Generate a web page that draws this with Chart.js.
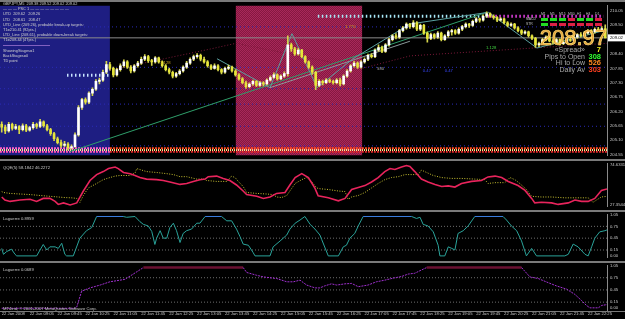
<!DOCTYPE html>
<html>
<head>
<meta charset="utf-8">
<title>GBPJPY,M5</title>
<script src="https://cdn.jsdelivr.net/npm/chart.js@4.4.1/dist/chart.umd.min.js"></script>
<style>
    html, body { margin: 0; padding: 0; background: #000; width: 625px; height: 319px; overflow: hidden; }
    canvas { position: absolute; left: 0; }
    .sep { position: absolute; left: 0; width: 625px; background: #7a7a7a; z-index: 5; }
</style>
</head>
<body>
<div class="sep" style="top:0;height:2px"></div>
<canvas id="priceChart" width="625" height="161" style="top:0"></canvas>
<div class="sep" style="top:159px;height:2px"></div>
<canvas id="qqeChart" width="625" height="54" style="top:158px"></canvas>
<div class="sep" style="top:210px;height:2px"></div>
<canvas id="laguerreChart" width="625" height="54" style="top:209px"></canvas>
<div class="sep" style="top:261px;height:2px"></div>
<canvas id="laguerreSlowChart" width="625" height="59" style="top:260px"></canvas>
<div class="sep" style="top:311px;height:1px"></div>

<script>
// ---- time axis ----
const timeLabels = ['22 Jan 2008', '22 Jan 09:05', '22 Jan 09:45', '22 Jan 10:25', '22 Jan 11:05', '22 Jan 11:45',
    '22 Jan 12:25', '22 Jan 13:05', '22 Jan 13:45', '22 Jan 14:25', '22 Jan 15:05', '22 Jan 15:45', '22 Jan 16:25',
    '22 Jan 17:05', '22 Jan 17:45', '22 Jan 18:25', '22 Jan 19:05', '22 Jan 19:45', '22 Jan 20:25', '22 Jan 21:05',
    '22 Jan 21:45', '22 Jan 22:25'];
const barsPerLabel = 8;

// ---- price ticks ----
const priceTicks = [210.05, 209.50, 208.95, 208.40, 207.85, 207.30, 206.75, 206.20, 205.65, 205.10, 204.55];
const qqeTicks = [74.6331, 27.3544];
const laguerreTicks = [1.05, 0.75, 0.45, 0.15, 0.00];
const laguerreLevels = [0.75, 0.45, 0.15];

// ---- GBPJPY M5 candles ----
const opens = [
    205.70, 205.60, 205.45, 205.70, 205.55, 205.62, 205.50, 205.65, 205.48, 205.58,
    205.70, 205.62, 205.80, 205.65, 205.50, 205.35, 205.15, 205.00, 204.90, 204.95,
    204.80, 204.85, 205.30, 206.35, 206.65, 206.55, 206.90, 207.05, 207.35, 207.40,
    207.70, 208.00, 207.85, 207.60, 207.80, 207.95, 208.10, 207.90, 207.75, 207.95,
    208.05, 208.20, 208.30, 208.15, 208.10, 208.25, 208.10, 207.95, 207.80, 207.70,
    207.55, 207.65, 207.75, 207.90, 208.05, 208.20, 208.30, 208.35, 208.20, 208.10,
    207.95, 207.85, 207.95, 207.80, 207.70, 207.85, 207.90, 207.75, 207.60, 207.45,
    207.30, 207.15, 207.25, 207.35, 207.20, 207.30, 207.25, 207.40, 207.50, 207.60,
    207.45, 207.55, 207.65, 208.75, 208.60, 208.40, 208.55, 208.30, 208.10, 207.90,
    207.70, 207.20, 207.35, 207.30, 207.40, 207.35, 207.30, 207.40, 207.25, 207.55,
    207.75, 207.95, 208.05, 207.90, 208.10, 208.20, 208.35, 208.30, 208.55, 208.65,
    208.50, 208.75, 208.95, 209.10, 209.05, 209.30, 209.40, 209.55, 209.45, 209.60,
    209.35, 209.50, 209.20, 209.00, 209.15, 209.05, 209.20, 208.95, 209.10, 209.25,
    209.30, 209.20, 209.35, 209.45, 209.55, 209.50, 209.65, 209.75, 209.70, 209.85,
    209.95, 209.85, 209.80, 209.70, 209.75, 209.60, 209.50, 209.55, 209.40, 209.30,
    209.20, 209.25, 209.10, 209.00, 208.75, 208.80, 208.95, 209.05, 208.90, 208.85,
    208.95, 208.80, 208.85, 208.95, 208.92, 209.05, 209.15, 209.10, 209.20, 209.30,
    209.25, 209.35, 209.32, 209.38
];
const highs = [
    205.80, 205.68, 205.78, 205.75, 205.70, 205.66, 205.72, 205.70, 205.63, 205.78,
    205.75, 205.90, 205.84, 205.70, 205.55, 205.40, 205.22, 205.10, 205.05, 205.00,
    204.92, 205.38, 206.42, 206.70, 206.72, 206.95, 207.10, 207.42, 207.48, 207.78,
    208.12, 208.08, 207.90, 207.85, 208.02, 208.18, 208.15, 207.96, 208.00, 208.12,
    208.28, 208.38, 208.35, 208.20, 208.30, 208.28, 208.14, 208.00, 207.86, 207.75,
    207.70, 207.80, 207.95, 208.12, 208.25, 208.36, 208.42, 208.40, 208.28, 208.15,
    208.00, 208.02, 208.00, 207.84, 207.90, 207.98, 207.94, 207.80, 207.65, 207.50,
    207.36, 207.30, 207.40, 207.38, 207.35, 207.34, 207.45, 207.56, 207.68, 207.64,
    207.60, 207.72, 209.10, 208.82, 208.66, 208.62, 208.58, 208.34, 208.14, 207.95,
    207.74, 207.42, 207.40, 207.46, 207.45, 207.40, 207.46, 207.48, 207.60, 207.80,
    208.00, 208.12, 208.10, 208.15, 208.25, 208.40, 208.42, 208.60, 208.75, 208.70,
    208.80, 209.00, 209.15, 209.18, 209.35, 209.46, 209.60, 209.58, 209.68, 209.64,
    209.55, 209.54, 209.25, 209.20, 209.18, 209.26, 209.24, 209.15, 209.30, 209.35,
    209.34, 209.40, 209.50, 209.60, 209.58, 209.70, 209.80, 209.78, 209.90, 210.02,
    209.98, 209.90, 209.84, 209.80, 209.78, 209.64, 209.60, 209.58, 209.45, 209.34,
    209.30, 209.28, 209.14, 209.04, 208.86, 209.00, 209.10, 209.08, 208.95, 209.00,
    208.98, 208.90, 209.00, 209.05, 209.10, 209.18, 209.22, 209.26, 209.34, 209.34,
    209.40, 209.42, 209.45, 209.52
];
const lows = [
    205.40, 205.35, 205.40, 205.48, 205.50, 205.35, 205.45, 205.42, 205.44, 205.52,
    205.55, 205.58, 205.60, 205.45, 205.28, 205.08, 204.95, 204.82, 204.85, 204.72,
    204.75, 204.82, 205.25, 206.28, 206.48, 206.50, 206.80, 207.00, 207.25, 207.35,
    207.65, 207.78, 207.52, 207.55, 207.74, 207.90, 207.85, 207.68, 207.70, 207.90,
    208.00, 208.15, 208.08, 207.96, 208.05, 208.05, 207.90, 207.75, 207.64, 207.48,
    207.50, 207.60, 207.70, 207.85, 208.00, 208.15, 208.24, 208.14, 208.05, 207.90,
    207.80, 207.82, 207.75, 207.64, 207.66, 207.80, 207.70, 207.55, 207.40, 207.25,
    207.08, 207.10, 207.20, 207.15, 207.16, 207.18, 207.22, 207.36, 207.46, 207.40,
    207.42, 207.50, 207.55, 208.50, 208.35, 208.36, 208.25, 208.05, 207.85, 207.62,
    207.03, 207.15, 207.22, 207.26, 207.30, 207.24, 207.25, 207.18, 207.22, 207.50,
    207.70, 207.90, 207.85, 207.86, 208.05, 208.15, 208.25, 208.26, 208.50, 208.45,
    208.46, 208.70, 208.90, 208.98, 209.00, 209.25, 209.35, 209.38, 209.40, 209.30,
    209.30, 209.15, 208.85, 208.95, 208.98, 209.00, 208.90, 208.92, 209.05, 209.12,
    209.15, 209.16, 209.30, 209.40, 209.42, 209.46, 209.60, 209.62, 209.66, 209.80,
    209.80, 209.74, 209.64, 209.66, 209.55, 209.44, 209.46, 209.35, 209.25, 209.14,
    209.16, 209.05, 208.95, 208.65, 208.68, 208.76, 208.90, 208.86, 208.78, 208.80,
    208.74, 208.76, 208.80, 208.88, 208.90, 209.00, 209.05, 209.06, 209.16, 209.18,
    209.20, 209.28, 209.30, 209.02
];
const closes = [
    205.60, 205.45, 205.70, 205.55, 205.62, 205.50, 205.65, 205.48, 205.58, 205.70,
    205.62, 205.80, 205.65, 205.50, 205.35, 205.15, 205.00, 204.90, 204.95, 204.80,
    204.85, 205.30, 206.35, 206.65, 206.55, 206.90, 207.05, 207.35, 207.40, 207.70,
    208.00, 207.85, 207.60, 207.80, 207.95, 208.10, 207.90, 207.75, 207.95, 208.05,
    208.20, 208.30, 208.15, 208.10, 208.25, 208.10, 207.95, 207.80, 207.70, 207.55,
    207.65, 207.75, 207.90, 208.05, 208.20, 208.30, 208.35, 208.20, 208.10, 207.95,
    207.85, 207.95, 207.80, 207.70, 207.85, 207.90, 207.75, 207.60, 207.45, 207.30,
    207.15, 207.25, 207.35, 207.20, 207.30, 207.25, 207.40, 207.50, 207.60, 207.45,
    207.55, 207.65, 208.75, 208.60, 208.40, 208.55, 208.30, 208.10, 207.90, 207.70,
    207.20, 207.35, 207.30, 207.40, 207.35, 207.30, 207.40, 207.25, 207.55, 207.75,
    207.95, 208.05, 207.90, 208.10, 208.20, 208.35, 208.30, 208.55, 208.65, 208.50,
    208.75, 208.95, 209.10, 209.05, 209.30, 209.40, 209.55, 209.45, 209.60, 209.35,
    209.50, 209.20, 209.00, 209.15, 209.05, 209.20, 208.95, 209.10, 209.25, 209.30,
    209.20, 209.35, 209.45, 209.55, 209.50, 209.65, 209.75, 209.70, 209.85, 209.95,
    209.85, 209.80, 209.70, 209.75, 209.60, 209.50, 209.55, 209.40, 209.30, 209.20,
    209.25, 209.10, 209.00, 208.75, 208.80, 208.95, 209.05, 208.90, 208.85, 208.95,
    208.80, 208.85, 208.95, 208.92, 209.05, 209.15, 209.10, 209.20, 209.30, 209.25,
    209.35, 209.32, 209.38, 209.02
];
const bidPrice = 209.02;

// ---- chart objects on the price pane (bar index, price) ----
const blueZoneBars = [-0.5, 31];
const redZoneBars = [67.1, 103.3];
const zigzagBars = [61.7, 76.9, 83.2, 90.4, 100.7, 117.0, 139.5, 153.4, 173.5];
const zigzagPrices = [208.22, 207.11, 209.18, 207.11, 208.22, 209.55, 210.00, 208.63, 209.33];
const fanBars = [19.6, 139.0];
const fanPrices = [204.66, 210.00];
const swingBars = [76.9, 117.0];
const swingPrices = [207.11, 208.89];
const maBars = [31, 59.7, 67.1, 103.3, 117.1, 173.5];
const maPrices = [207.78, 208.59, 208.81, 207.85, 208.33, 208.81];
const pivotLevels = [209.44, 207.89, 207.07, 206.48, 205.63, 204.88];
const stageDotPrice = 209.85;
const stageDotBars = [90.6, 139.2, 172.5];
const tdDotPrice = 207.59;
const tdDotBars = [18.7, 31];
const bandPrices = [204.79, 204.72, 204.65];

// ---- QQE(5) ----
const qqeRsiBars = [0, 0.9, 2.4, 5.2, 8.1, 10, 11.9, 13.8, 15.3, 16.2, 17.7, 19.6, 21.5, 23.4, 25.3, 27.2, 29.1, 30.6,
    32.5, 33.4, 34.9, 36.8, 38.2, 39.6, 41.5, 44.4, 46.3, 48.2, 51.1, 53, 54.9, 56.8, 58.3, 59.2, 61.6, 63.5, 65.4,
    67.3, 69.2, 70.2, 73.1, 75, 76.9, 78.8, 81.2, 82.6, 84.1, 86, 87.9, 89.8, 90.7, 93.6, 96.5, 98.4, 100.3, 102.2,
    104.1, 106, 107.9, 109.8, 111.3, 112.7, 114.6, 116, 117, 118.4, 120.3, 122.2, 124.2, 126.1, 128, 129.9, 131.8,
    134.7, 137.5, 139.4, 141.4, 143.3, 145.2, 148, 150, 151.9, 152.8, 154.7, 157.6, 159.5, 162.4, 164.3, 166.2, 168.1,
    170, 171.9, 173.5];
const qqeRsiValues = [36.6, 33.0, 31.3, 33.0, 33.8, 31.3, 34.9, 34.9, 31.3, 27.7, 29.5, 27.0, 29.5, 43.8, 56.4, 63.5,
    67.1, 70.7, 72.5, 70.7, 66.0, 64.6, 62.4, 59.9, 58.1, 57.4, 56.4, 54.6, 51.7, 52.8, 55.3, 57.4, 58.1, 61.0, 61.7,
    58.9, 56.4, 51.0, 43.8, 39.5, 37.4, 34.9, 36.6, 40.9, 42.0, 51.0, 59.9, 64.6, 59.9, 47.0, 38.0, 35.6, 32.0, 34.9,
    45.6, 48.1, 50.3, 54.6, 59.9, 67.1, 70.7, 69.6, 72.5, 74.3, 73.2, 67.1, 58.1, 54.6, 51.7, 49.2, 49.9, 48.5, 52.8,
    55.3, 56.4, 60.7, 61.7, 59.9, 55.3, 50.3, 44.5, 34.9, 29.5, 30.2, 29.5, 27.7, 29.5, 33.0, 31.3, 31.3, 34.9, 44.5,
    46.2];
const qqeTrailBars = [0, 0.5, 2.4, 5.2, 8.1, 11, 13.8, 16.2, 18.1, 20, 21.5, 22.4, 23.4, 24.8, 27.2, 29.1, 31, 32.5,
    33.9, 36.8, 38.2, 38.7, 40.1, 41.5, 44.4, 47.3, 49.2, 51.1, 53, 55.9, 57.8, 58.7, 61.6, 64.5, 65.9, 66.9, 67.8,
    69.2, 70.2, 73.1, 75.9, 77.8, 78.8, 80.2, 81.7, 82.6, 84.1, 86, 87.4, 88.8, 90.3, 91.2, 93.6, 96.5, 98.4, 99.3,
    100.3, 102.2, 104.1, 106, 107.9, 109.8, 111.7, 113.7, 115.6, 117.5, 119.4, 120.3, 121.8, 123.7, 126.1, 128.9,
    131.8, 135.6, 138.5, 139.4, 141.4, 144.2, 145.7, 147.1, 148.5, 150.4, 151.9, 154.7, 157.6, 161.4, 165.2, 168.1,
    169.5, 170.5, 171.9, 173.5];
const qqeTrailValues = [43.1, 42.0, 40.9, 40.2, 39.5, 38.4, 37.4, 36.6, 35.9, 35.6, 34.9, 30.2, 38.4, 47.4, 52.8, 57.4,
    59.9, 61.7, 62.4, 62.4, 65.3, 70.7, 68.9, 67.1, 66.0, 64.6, 63.5, 61.0, 61.0, 58.1, 58.1, 56.4, 55.3, 55.3, 61.7,
    59.9, 55.3, 49.2, 42.0, 40.9, 40.2, 39.5, 36.6, 35.9, 38.4, 43.8, 52.8, 57.4, 59.9, 55.3, 47.4, 46.5, 45.6, 43.8,
    43.1, 33.8, 36.6, 38.4, 42.0, 47.4, 52.8, 57.4, 59.9, 61.0, 63.5, 63.5, 63.5, 68.9, 66.0, 62.4, 59.9, 58.9, 58.9,
    58.1, 57.4, 52.8, 53.8, 53.8, 59.9, 57.4, 52.8, 45.6, 37.4, 36.6, 36.6, 35.6, 35.6, 35.6, 30.2, 33.0, 36.6, 37.4];

// ---- Laguerre (fast) ----
const laguerreBars = [0, 0.5, 1.4, 2.8, 3.8, 4.3, 10, 11.9, 12.9, 13.8, 15.3, 16.2, 17.2, 18.1, 18.6, 20.5, 22.4, 24.3,
    25.8, 27.2, 34.8, 35.8, 38.2, 39.6, 40.6, 42, 43, 43.9, 44.4, 45.4, 46.3, 47.3, 48.2, 49.2, 50.1, 51.1, 52, 53,
    54.4, 55.9, 56.8, 58.3, 63, 64.5, 65.9, 67.3, 68.3, 69.2, 70.7, 72.1, 72.6, 76.9, 77.8, 79.8, 81.7, 82.6, 84.1,
    85.5, 86.9, 88.4, 89.8, 91.2, 91.7, 93.6, 96.5, 97.9, 98.8, 99.8, 101.2, 102.2, 103.6, 117.5, 118.9, 119.9, 120.8,
    122.2, 123.7, 125.1, 125.6, 127, 128, 129, 129.9, 130.8, 132.3, 133.7, 135.6, 143.7, 144.7, 146.1, 147.6, 149,
    150.4, 151.9, 153.3, 161.4, 162.4, 163.8, 165.2, 167.2, 168.1, 169.1, 170, 171.4, 172.9, 173.5];
const laguerreValues = [0.19, 0.04, 0.11, 0.17, 0.04, 0, 0, 0.29, 0.15, 0.23, 0.23, 0.19, 0.32, 0.04, 0, 0, 0.45, 0.64,
    0.72, 1, 1, 0.98, 1, 0.87, 0.80, 0.76, 0.62, 0.29, 0.45, 0.64, 0.45, 0.45, 0.72, 0.83, 0.64, 0.34, 0.57, 0.64, 0.68,
    0.83, 0.83, 1, 1, 0.89, 0.89, 0.68, 0.49, 0.30, 0.27, 0.08, 0, 0, 0.23, 0.38, 0.53, 0.68, 0.83, 0.91, 1, 0.80,
    0.68, 0.53, 0.42, 0, 0, 0.23, 0.27, 0.45, 0.57, 0.76, 1, 1, 0.95, 0.98, 0.80, 0.76, 0.61, 0.27, 0, 0, 0.23, 0.19,
    0.15, 0.57, 0.64, 0.76, 1, 1, 0.91, 0.76, 0.64, 0.38, 0, 0.19, 0, 0, 0.04, 0.30, 0.23, 0.04, 0, 0.23, 0.45, 0.61,
    0.64, 0.66];

// ---- Laguerre (slow) ----
const laguerreSlowBars = [0, 21, 21.5, 22.9, 25.3, 28.2, 31, 33.9, 35.3, 37.7, 40.6, 69.2, 70.2, 73.1, 75, 76.9, 78.8,
    81.7, 83.6, 85.5, 87.4, 89.8, 91.2, 92.6, 94.5, 96, 98.4, 100.3, 102.2, 105, 107.4, 109.8, 112.2, 114.6, 116.5,
    118.4, 120.3, 121.8, 149, 151.4, 153.8, 156.6, 159, 161.9, 164.3, 166.2, 167.6, 168.6, 171, 172, 173.5];
const laguerreSlowValues = [0, 0, 0.03, 0.42, 0.50, 0.57, 0.65, 0.69, 0.71, 0.84, 1, 1, 0.88, 0.81, 0.77, 0.75, 0.73,
    0.65, 0.65, 0.69, 0.57, 0.50, 0.50, 0.55, 0.60, 0.57, 0.60, 0.61, 0.53, 0.57, 0.65, 0.69, 0.74, 0.78, 0.84, 0.86,
    0.94, 1, 1, 0.77, 0.73, 0.63, 0.55, 0.47, 0.34, 0.19, 0.07, 0.01, 0.01, 0.07, 0.09];

// ---- text shown on the chart ----
const infoLines = [
    'GBPJPY,M5  209.38 209.52 209.02 209.02',
    '— — — PSC 1 — — — — — — — —',
    'UTD  209.62   209.26',
    'LTD   208.61   208.47',
    'UTD_Line (209.26), probable break-up targets:',
    'T1=210.41 (92pts.)',
    'LTD_Line (208.61), probable down-break targets:',
    'T1=208.44 (47pts.)',
    '',
    'ShowingStages=1',
    'BackStages=0',
    'TD point'
];
const statLabels = ['«Spread»', 'Pips to Open', 'Hi to Low', 'Daily Av'];
const statValues = ['7', '308', '526', '303'];
const tfHeaders = ['M1', 'M5', 'M15', 'M30', 'H1', 'H4', 'D1'];
const tfRowA = [1, 1, 1, 0, 1, 1, 0];
const tfRowB = [1, 0, 0, 0, 0, 0, 0];

Chart.defaults.font.family = '"Liberation Sans", Arial, sans-serif';
Chart.defaults.color = '#c8c8c8';

const AXIS_W = 18;
const SMALL = { size: 4.2 };

/**
 * Shared x scale (bar index)
 */
function barScale(showLabels) {
    return {
        type: 'linear',
        min: -0.5,
        max: 173.5,
        offset: false,
        display: showLabels,
        grid: { display: false, drawTicks: false, tickLength: 0 },
        border: { display: false },
        afterBuildTicks: (s) => { s.ticks = timeLabels.map((t, k) => ({ value: k * barsPerLabel })); },
        afterFit: (s) => { s.height = showLabels ? 9 : 0; },
        ticks: {
            callback: (v, idx) => timeLabels[idx],
            align: 'start',
            maxRotation: 0,
            autoSkip: false,
            padding: 1,
            font: SMALL,
            color: '#c8c8c8',
        },
    };
}

/**
 * Right hand value axis
 */
function valueScale(min, max, values, digits) {
    return {
        position: 'right',
        min: min,
        max: max,
        grid: { display: false, drawTicks: false, tickLength: 0 },
        border: { color: '#8a8a8a' },
        afterBuildTicks: (s) => { s.ticks = values.map(v => ({ value: v })); },
        afterFit: (s) => { s.width = AXIS_W; },
        ticks: { padding: 3, font: SMALL, color: '#c8c8c8', callback: (v) => v.toFixed(digits) },
    };
}

function lineOf(bars, values, color, width, dash, order) {
    return {
        type: 'line',
        data: bars.map((b, k) => ({ x: b, y: values[k] })),
        borderColor: color,
        borderWidth: width,
        borderDash: dash || [],
        pointRadius: 0,
        fill: false,
        tension: 0,
        order: order || 5,
    };
}

function levelOf(price, fromBar, toBar, color, width, dash, order) {
    return lineOf([fromBar, toBar], [price, price], color, width, dash, order);
}

const baseOptions = {
    responsive: false,
    animation: false,
    events: [],
    devicePixelRatio: 1,
};

// pane caption, drawn at the top-left of each plot area
const captionPlugin = {
    id: 'caption',
    afterDraw(chart, args, opts) {
        if (!opts || !opts.lines) return;
        const { ctx, chartArea: a } = chart;
        ctx.save();
        ctx.font = '4.2px "Liberation Sans"';
        ctx.fillStyle = '#c8c8c8';
        ctx.textBaseline = 'middle';
        opts.lines.forEach(l => ctx.fillText(l.text, a.left + 3, a.top + l.dy));
        ctx.restore();
    }
};

// shaded sessions on the price pane
function makeRedPattern(ctx) {
    const c = document.createElement('canvas');
    c.width = 2; c.height = 2;
    const p = c.getContext('2d');
    p.fillStyle = '#861840';
    p.fillRect(0, 0, 2, 2);
    p.fillStyle = '#a8285a';
    p.fillRect(0, 0, 1, 1);
    p.fillRect(1, 1, 1, 1);
    return ctx.createPattern(c, 'repeat');
}

const zonesPlugin = {
    id: 'zones',
    beforeDatasetsDraw(chart) {
        const { ctx, chartArea: a, scales: { x } } = chart;
        ctx.save();
        ctx.beginPath();
        ctx.rect(a.left, a.top, a.right - a.left, a.bottom - a.top);
        ctx.clip();
        let x0 = x.getPixelForValue(blueZoneBars[0]);
        let x1 = x.getPixelForValue(blueZoneBars[1]);
        ctx.fillStyle = '#1e1e82';
        ctx.fillRect(x0, a.top, x1 - x0, a.bottom - a.top);
        x0 = x.getPixelForValue(redZoneBars[0]);
        x1 = x.getPixelForValue(redZoneBars[1]);
        ctx.fillStyle = makeRedPattern(ctx);
        ctx.fillRect(x0, a.top, x1 - x0, a.bottom - a.top);
        ctx.restore();
    }
};

// texts and panels drawn over the price pane
const overlayPlugin = {
    id: 'overlay',
    afterDatasetsDraw(chart) {
        const { ctx, chartArea: a, scales: { x, y } } = chart;
        ctx.save();

        // info block, top left
        ctx.font = '3.9px "Liberation Sans"';
        ctx.textBaseline = 'middle';
        ctx.fillStyle = '#d0d0d0';
        infoLines.forEach((t, k) => { if (t) ctx.fillText(t, 3, 4 + k * 5.2); });
        ctx.strokeStyle = '#8060c0';
        ctx.lineWidth = 1;
        ctx.beginPath();
        ctx.moveTo(3, 45.5);
        ctx.lineTo(50, 45.5);
        ctx.stroke();

        // small value tags
        const tags = [
            { bar: 45.4, price: 208.07, text: '1.128', color: '#c8a020' },
            { bar: 98.4, price: 209.44, text: '1.770', color: '#c8a020' },
            { bar: 107.6, price: 207.85, text: '580', color: '#b0b0b0' },
            { bar: 138.8, price: 208.63, text: '1.128', color: '#40d040' },
            { bar: 120.7, price: 207.74, text: '0.47', color: '#3848ff' },
            { bar: 127.0, price: 207.74, text: '0.47', color: '#3848ff' },
        ];
        ctx.font = '4.2px "Liberation Sans"';
        tags.forEach(t => {
            ctx.fillStyle = t.color;
            ctx.fillText(t.text, x.getPixelForValue(t.bar), y.getPixelForValue(t.price));
        });

        // timeframe table
        const tx = a.right - 66;
        ctx.font = '3.4px "Liberation Sans"';
        ctx.fillStyle = '#c0c0c0';
        tfHeaders.forEach((h, k) => ctx.fillText(h, tx + k * 9, 14));
        ctx.fillText('MACD', tx - 15, 19.5);
        ctx.fillText('STR', tx - 15, 24.5);
        [tfRowA, tfRowB].forEach((row, r) => {
            row.forEach((v, k) => {
                ctx.fillStyle = v ? '#22dd22' : '#dd2244';
                ctx.fillRect(tx + k * 9, 18 + r * 5, 7, 3);
            });
        });

        // big bid price and stats
        ctx.textBaseline = 'alphabetic';
        ctx.textAlign = 'right';
        ctx.font = '22px "Liberation Sans"';
        ctx.fillStyle = '#e49a38';
        ctx.fillText('208.97', a.right, 45);
        ctx.strokeStyle = '#ffe070';
        ctx.lineWidth = 0.7;
        ctx.strokeText('208.97', a.right, 45);

        const statColors = ['#f0f020', '#30ff30', '#ff8a20', '#ff4020'];
        statLabels.forEach((l, k) => {
            ctx.font = '7px "Liberation Sans"';
            ctx.fillStyle = '#a8a8a8';
            ctx.fillText(l, a.right - 22, 52 + k * 6.6);
            ctx.font = 'bold 7.5px "Liberation Sans"';
            ctx.fillStyle = statColors[k];
            ctx.fillText(statValues[k], a.right - 6, 52 + k * 6.6);
        });

        // current price tag on the axis
        const py = y.getPixelForValue(bidPrice);
        ctx.fillStyle = '#ffffff';
        ctx.fillRect(a.right + 1, py - 3.5, AXIS_W - 1, 7);
        ctx.fillStyle = '#000000';
        ctx.textAlign = 'left';
        ctx.textBaseline = 'middle';
        ctx.font = '4.2px "Liberation Sans"';
        ctx.fillText(bidPrice.toFixed(2), a.right + 3, py);

        ctx.restore();
    }
};

/**
 * Price pane
 */
function initializePriceChart() {
    const ctx = document.getElementById('priceChart');
    const bodyColors = opens.map((o, i) => closes[i] >= o ? '#ffffff' : '#e6e63a');
    const datasets = [
        {
            label: 'bodies',
            data: opens.map((o, i) => ({ x: i, y: [o, closes[i]] })),
            backgroundColor: bodyColors,
            barThickness: 2,
            minBarLength: 1,
            grouped: false,
            order: 1,
        },
        {
            label: 'wicks',
            data: lows.map((l, i) => ({ x: i, y: [l, highs[i]] })),
            backgroundColor: '#d4d44a',
            barThickness: 1,
            grouped: false,
            order: 2,
        },
        levelOf(bidPrice, -0.5, 173.5, '#8c8c8c', 1, [], 3),
        lineOf(zigzagBars, zigzagPrices, '#5aa0a0', 1, [], 4),
        lineOf(fanBars, fanPrices, '#2f9f6a', 1, [], 4),
        lineOf(swingBars, swingPrices, '#8a9a9a', 1, [], 4),
        lineOf(maBars, maPrices, '#7a1838', 1, [1, 2], 6),
        levelOf(stageDotPrice, stageDotBars[0], stageDotBars[1], '#a8e8f8', 3, [1.5, 2.5], 4),
        levelOf(stageDotPrice, stageDotBars[1], stageDotBars[2], '#e040e0', 3, [1.5, 2.5], 4),
        levelOf(tdDotPrice, tdDotBars[0], tdDotBars[1], '#c8e4ff', 3, [1.5, 2.5], 4),
        levelOf(bandPrices[0], blueZoneBars[0], blueZoneBars[1], '#ff60c8', 2, [2, 1], 4),
        levelOf(bandPrices[0], blueZoneBars[1], 173.5, '#ff4a20', 2, [2, 1], 4),
        levelOf(bandPrices[1], -0.5, 173.5, '#ffe890', 2, [1, 1], 4),
        levelOf(bandPrices[2], blueZoneBars[0], blueZoneBars[1], '#ff50b0', 2, [2, 1], 4),
        levelOf(bandPrices[2], blueZoneBars[1], 173.5, '#e02828', 2, [2, 1], 4),
    ];
    pivotLevels.forEach(p => datasets.push(levelOf(p, -0.5, 173.5, '#2a2ab8', 1, [1, 3], 7)));

    new Chart(ctx, {
        type: 'bar',
        data: { datasets },
        options: {
            ...baseOptions,
            layout: { padding: { top: 3, bottom: 3, left: 0, right: 0 } },
            plugins: { legend: { display: false }, tooltip: { enabled: false } },
            scales: {
                x: barScale(false),
                y: valueScale(204.51, 210.26, priceTicks, 2),
            },
        },
        plugins: [zonesPlugin, overlayPlugin],
    });
}

/**
 * QQE pane
 */
function initializeQqeChart() {
    new Chart(document.getElementById('qqeChart'), {
        type: 'line',
        data: {
            datasets: [
                lineOf(qqeRsiBars, qqeRsiValues, '#e8245c', 1.6, [], 1),
                lineOf(qqeTrailBars, qqeTrailValues, '#c8c030', 1, [1, 1.5], 2),
            ],
        },
        options: {
            ...baseOptions,
            layout: { padding: { top: 3, bottom: 3, left: 0, right: 0 } },
            plugins: {
                legend: { display: false },
                tooltip: { enabled: false },
                caption: { lines: [{ text: 'QQE(5) 58.1842 46.2272', dy: 4 }] },
            },
            scales: {
                x: barScale(false),
                y: valueScale(25.21, 76.78, qqeTicks, 4),
            },
        },
        plugins: [captionPlugin],
    });
}

/**
 * Laguerre panes
 */
function initializeLaguerreCharts() {
    const fast = lineOf(laguerreBars, laguerreValues, '#2aa39a', 1, [], 1);
    fast.segment = {
        borderColor: c => (c.p0.parsed.y >= 0.99 && c.p1.parsed.y >= 0.99) ? '#3a7ee0' : undefined,
    };
    new Chart(document.getElementById('laguerreChart'), {
        type: 'line',
        data: { datasets: [fast, ...laguerreLevels.map(v => levelOf(v, -0.5, 173.5, '#6e6e6e', 1, [1, 2], 9))] },
        options: {
            ...baseOptions,
            layout: { padding: { top: 3, bottom: 3, left: 0, right: 0 } },
            plugins: {
                legend: { display: false },
                tooltip: { enabled: false },
                caption: { lines: [{ text: 'Laguerre 0.8959', dy: 4 }] },
            },
            scales: {
                x: barScale(false),
                y: valueScale(-0.04, 1.05, laguerreTicks, 2),
            },
        },
        plugins: [captionPlugin],
    });

    const slow = lineOf(laguerreSlowBars, laguerreSlowValues, '#a030d0', 1, [2, 1], 1);
    slow.segment = {
        borderColor: c => (c.p0.parsed.y >= 0.99 && c.p1.parsed.y >= 0.99) ? '#6a1032' : undefined,
        borderWidth: c => (c.p0.parsed.y >= 0.99 && c.p1.parsed.y >= 0.99) ? 2.5 : undefined,
        borderDash: c => (c.p0.parsed.y >= 0.99 && c.p1.parsed.y >= 0.99) ? [] : undefined,
    };
    new Chart(document.getElementById('laguerreSlowChart'), {
        type: 'line',
        data: { datasets: [slow, ...laguerreLevels.map(v => levelOf(v, -0.5, 173.5, '#6e6e6e', 1, [1, 2], 9))] },
        options: {
            ...baseOptions,
            layout: { padding: { top: 3, bottom: 0, left: 0, right: 0 } },
            plugins: {
                legend: { display: false },
                tooltip: { enabled: false },
                caption: {
                    lines: [
                        { text: 'Laguerre 0.0689', dy: 4 },
                        { text: 'MT4ind, © 2001-2007 MetaQuotes Software Corp.', dy: 43 },
                    ],
                },
            },
            scales: {
                x: barScale(true),
                y: valueScale(-0.043, 1.05, laguerreTicks, 2),
            },
        },
        plugins: [captionPlugin],
    });
}

initializePriceChart();
initializeQqeChart();
initializeLaguerreCharts();
</script>
</body>
</html>
